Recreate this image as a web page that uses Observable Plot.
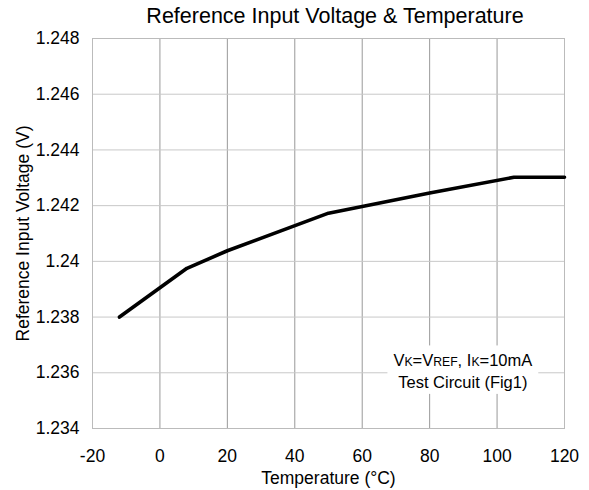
<!DOCTYPE html>
<html><head><meta charset="utf-8">
<script src="https://cdn.jsdelivr.net/npm/d3@7"></script>
<script src="https://cdn.jsdelivr.net/npm/@observablehq/plot@0.6"></script>
<style>
body{margin:0;background:#fff}
svg{font-family:"Liberation Sans",Arial,sans-serif}
</style>
</head><body><div id="chart"></div>
<script>
const temperature = [-12, 8, 20, 50, 60, 80, 105, 120];
const voltage = [1.2380, 1.23975, 1.24038, 1.24173, 1.24197, 1.24245, 1.24302, 1.24302];
const xTicks = [-20, 0, 20, 40, 60, 80, 100, 120];
const yTicks = [1.234, 1.236, 1.238, 1.240, 1.242, 1.244, 1.246, 1.248];
const yTickLabels = ["1.234", "1.236", "1.238", "1.24", "1.242", "1.244", "1.246", "1.248"];
const title = "Reference Input Voltage & Temperature";
const xLabel = "Temperature (°C)";
const yLabel = "Reference Input Voltage (V)";
const noteLine1 = [["V", false], ["K", true], ["=V", false], ["REF", true], [", I", false], ["K", true], ["=10mA", false]];
const noteLine2 = "Test Circuit (Fig1)";
const noteX = 90;
const noteY1 = 1.23621;
const noteY2 = 1.23544;

const data = temperature.map((t, i) => ({t, v: voltage[i]}));

const plot = Plot.plot({
  width: 589,
  height: 490,
  marginLeft: 92,
  marginRight: 25,
  marginTop: 38,
  marginBottom: 62,
  style: {fontFamily: "'Liberation Sans', Arial, sans-serif", fontSize: "17px", color: "#000", background: "#fff"},
  x: {domain: [-20, 120]},
  y: {domain: [1.234, 1.248]},
  marks: [
    Plot.gridX(xTicks, {stroke: "#999", strokeOpacity: 1}),
    Plot.gridY(yTicks, {stroke: "#c8c8c8", strokeOpacity: 1}),
    Plot.frame({stroke: "#bbb"}),
    Plot.axisX(xTicks, {tickSize: 0, tickPadding: 21, fontSize: 17.5, tickFormat: d => String(d),
      label: xLabel, labelAnchor: "center", labelArrow: "none", labelOffset: 55}),
    Plot.axisY(yTicks, {tickSize: 0, tickPadding: 13, fontSize: 17.5, tickFormat: (d, i) => yTickLabels[i],
      label: yLabel, labelAnchor: "center", labelArrow: "none", labelOffset: 76}),
    Plot.line(data, {x: "t", y: "v", stroke: "#000", strokeWidth: 3.6}),
    Plot.text([title], {frameAnchor: "top", lineAnchor: "top", dy: -31, dx: 6.5, fontSize: 21.5, fill: "#000"})
  ]
});
document.getElementById("chart").appendChild(plot);

// annotation with small-caps parts and white background
const sx = plot.scale("x"), sy = plot.scale("y");
const svg = d3.select(plot);
const g = svg.append("g").attr("font-size", 16.5).attr("text-anchor", "middle").attr("fill", "#000");
const bg = g.append("rect").attr("fill", "#fff");
const t1 = g.append("text").attr("x", sx.apply(noteX)).attr("y", sy.apply(noteY1));
noteLine1.forEach(([s, small]) => t1.append("tspan").attr("font-size", small ? 12.2 : 16.5).text(s));
const t2 = g.append("text").attr("x", sx.apply(noteX)).attr("y", sy.apply(noteY2)).text(noteLine2);
const b1 = t1.node().getBBox(), b2 = t2.node().getBBox();
const x0 = Math.min(b1.x, b2.x) - 6, x1 = Math.max(b1.x + b1.width, b2.x + b2.width) + 6;
const y0 = b1.y - 6, y1 = b2.y + b2.height + 3;
bg.attr("x", x0).attr("y", y0).attr("width", x1 - x0).attr("height", y1 - y0);
</script>
</body></html>
